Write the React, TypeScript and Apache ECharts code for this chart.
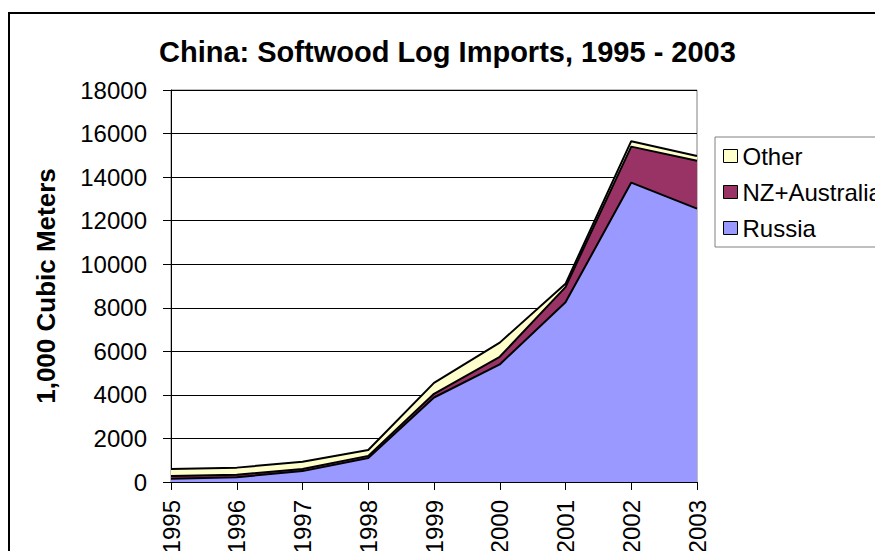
import React, { useEffect, useRef } from "react";
import * as echarts from "echarts";

const years = ["1995", "1996", "1997", "1998", "1999", "2000", "2001", "2002", "2003"];
const russia = [150, 220, 500, 1100, 3880, 5400, 8250, 13750, 12550];
const nzAustralia = [120, 110, 100, 100, 170, 350, 700, 1650, 2200];
const other = [330, 330, 330, 270, 500, 650, 150, 250, 220];
const legendOrder = ["Other", "NZ+Australia", "Russia"];

const FONT = "'Liberation Sans', Arial, sans-serif";

export default function App() {
  const ref = useRef<HTMLDivElement>(null);
  useEffect(() => {
    if (!ref.current) return;
    const chart = echarts.init(ref.current, undefined, { renderer: "svg" });
    const mk = (name: string, data: number[], color: string) => ({
      name,
      type: "line",
      stack: "total",
      data,
      symbol: "none",
      smooth: false,
      lineStyle: { color: "#000", width: 2 },
      itemStyle: { color, borderColor: "#000", borderWidth: 1 },
      areaStyle: { color, opacity: 1 },
      emphasis: { disabled: true },
    });
    chart.setOption({
      animation: false,
      backgroundColor: "#fff",
      textStyle: { fontFamily: FONT },
      title: {
        text: "China: Softwood Log Imports, 1995 - 2003",
        left: 159,
        top: 37,
        padding: 0,
        textStyle: { fontFamily: FONT, fontSize: 29, fontWeight: "bold", color: "#000" },
      },
      graphic: [
        {
          type: "rect",
          shape: { x: 9, y: 13, width: 1000, height: 1000 },
          style: { fill: "none", stroke: "#000", lineWidth: 2 },
          z: -1,
          silent: true,
        },
      ],
      legend: {
        orient: "vertical",
        left: 715,
        top: 137,
        data: legendOrder,
        icon: "rect",
        itemWidth: 14,
        itemHeight: 13,
        itemGap: 12,
        padding: [7, 120, 7, 8],
        borderColor: "#808080",
        borderWidth: 1,
        itemStyle: { borderColor: "#000", borderWidth: 1 },
        textStyle: { fontFamily: FONT, fontSize: 24, color: "#000" },
      },
      grid: {
        left: 171,
        top: 90,
        width: 526,
        height: 392,
        show: true,
        borderColor: "#808080",
        borderWidth: 1,
        backgroundColor: "#fff",
        containLabel: false,
        outerBoundsMode: "none",
      },
      xAxis: {
        type: "category",
        data: years,
        boundaryGap: false,
        axisLine: { show: true, lineStyle: { color: "#000", width: 1 } },
        axisTick: { show: true, length: 8, inside: false, lineStyle: { color: "#000" } },
        axisLabel: { rotate: 90, fontSize: 24, color: "#000", margin: 18, fontFamily: FONT, interval: 0 },
        splitLine: { show: false },
      },
      yAxis: {
        type: "value",
        min: 0,
        max: 18000,
        interval: 2000,
        name: "1,000 Cubic Meters",
        nameLocation: "middle",
        nameGap: 112,
        nameRotate: 90,
        nameTextStyle: { fontFamily: FONT, fontSize: 26, fontWeight: "bold", color: "#000" },
        axisLine: { show: true, lineStyle: { color: "#000", width: 1 } },
        axisTick: { show: true, length: 8, inside: false, lineStyle: { color: "#000" } },
        axisLabel: {
          fontSize: 24,
          color: "#000",
          margin: 24,
          fontFamily: FONT,
          formatter: (v: number) => String(v),
        },
        splitLine: { show: true, lineStyle: { color: "#000", width: 1 } },
      },
      series: [
        mk("Russia", russia, "#9999FF"),
        mk("NZ+Australia", nzAustralia, "#993366"),
        mk("Other", other, "#FFFFCC"),
      ],
    });
    return () => chart.dispose();
  }, []);
  return (
    <div
      ref={ref}
      style={{ position: "fixed", left: 0, top: 0, width: 875, height: 551 }}
    />
  );
}
